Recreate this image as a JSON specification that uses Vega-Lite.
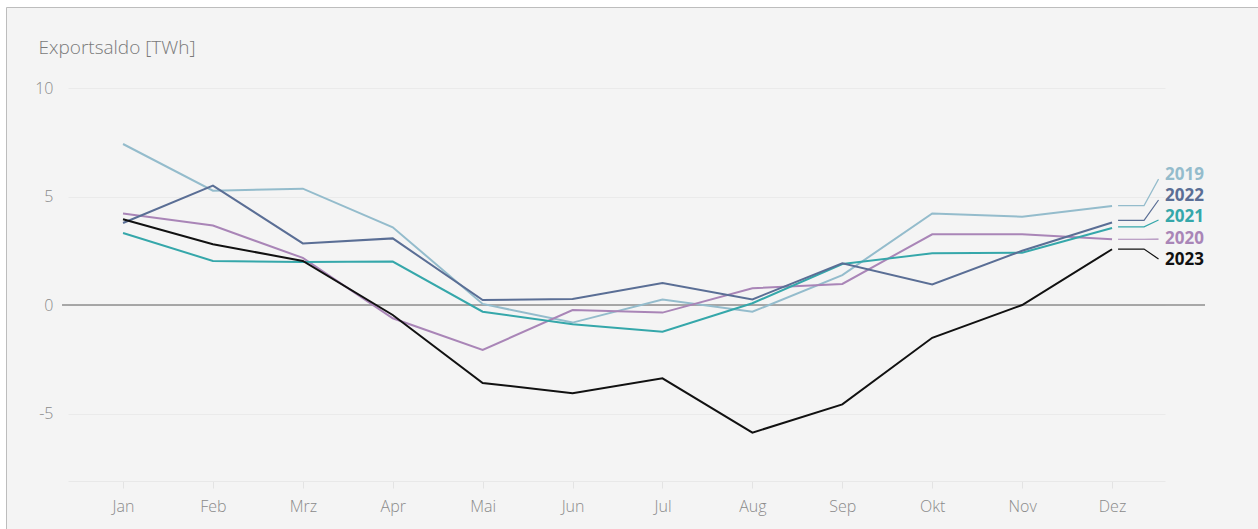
{
  "$schema": "https://vega.github.io/schema/vega-lite/v6.json",
  "width": 1252,
  "height": 522,
  "padding": {"left": 6, "top": 7, "right": 0, "bottom": 0},
  "autosize": {"type": "none"},
  "background": "white",
  "config": {
    "view": {"fill": "#f4f4f4", "stroke": "#bdbdbd"},
    "font": "Open Sans"
  },
  "datasets": {
    "series": [
      {"year": "2019", "m": 1, "v": 7.42}, {"year": "2019", "m": 2, "v": 5.27}, {"year": "2019", "m": 3, "v": 5.36}, {"year": "2019", "m": 4, "v": 3.58}, {"year": "2019", "m": 5, "v": 0.05}, {"year": "2019", "m": 6, "v": -0.81}, {"year": "2019", "m": 7, "v": 0.25}, {"year": "2019", "m": 8, "v": -0.31}, {"year": "2019", "m": 9, "v": 1.38}, {"year": "2019", "m": 10, "v": 4.22}, {"year": "2019", "m": 11, "v": 4.07}, {"year": "2019", "m": 12, "v": 4.56},
      {"year": "2020", "m": 1, "v": 4.22}, {"year": "2020", "m": 2, "v": 3.66}, {"year": "2020", "m": 3, "v": 2.17}, {"year": "2020", "m": 4, "v": -0.61}, {"year": "2020", "m": 5, "v": -2.07}, {"year": "2020", "m": 6, "v": -0.23}, {"year": "2020", "m": 7, "v": -0.35}, {"year": "2020", "m": 8, "v": 0.77}, {"year": "2020", "m": 9, "v": 0.97}, {"year": "2020", "m": 10, "v": 3.26}, {"year": "2020", "m": 11, "v": 3.26}, {"year": "2020", "m": 12, "v": 3.03},
      {"year": "2021", "m": 1, "v": 3.32}, {"year": "2021", "m": 2, "v": 2.03}, {"year": "2021", "m": 3, "v": 1.98}, {"year": "2021", "m": 4, "v": 2.0}, {"year": "2021", "m": 5, "v": -0.31}, {"year": "2021", "m": 6, "v": -0.89}, {"year": "2021", "m": 7, "v": -1.23}, {"year": "2021", "m": 8, "v": 0.08}, {"year": "2021", "m": 9, "v": 1.89}, {"year": "2021", "m": 10, "v": 2.38}, {"year": "2021", "m": 11, "v": 2.41}, {"year": "2021", "m": 12, "v": 3.55},
      {"year": "2022", "m": 1, "v": 3.78}, {"year": "2022", "m": 2, "v": 5.5}, {"year": "2022", "m": 3, "v": 2.84}, {"year": "2022", "m": 4, "v": 3.07}, {"year": "2022", "m": 5, "v": 0.23}, {"year": "2022", "m": 6, "v": 0.28}, {"year": "2022", "m": 7, "v": 1.01}, {"year": "2022", "m": 8, "v": 0.26}, {"year": "2022", "m": 9, "v": 1.92}, {"year": "2022", "m": 10, "v": 0.95}, {"year": "2022", "m": 11, "v": 2.5}, {"year": "2022", "m": 12, "v": 3.8},
      {"year": "2023", "m": 1, "v": 3.95}, {"year": "2023", "m": 2, "v": 2.8}, {"year": "2023", "m": 3, "v": 2.03}, {"year": "2023", "m": 4, "v": -0.46}, {"year": "2023", "m": 5, "v": -3.59}, {"year": "2023", "m": 6, "v": -4.07}, {"year": "2023", "m": 7, "v": -3.38}, {"year": "2023", "m": 8, "v": -5.88}, {"year": "2023", "m": 9, "v": -4.58}, {"year": "2023", "m": 10, "v": -1.51}, {"year": "2023", "m": 11, "v": 0.0}, {"year": "2023", "m": 12, "v": 2.57}
    ],
    "leaders": [
      {"year": "2019", "m": 12.067, "v": 4.58}, {"year": "2019", "m": 12.356, "v": 4.58}, {"year": "2019", "m": 12.517, "v": 5.8},
      {"year": "2022", "m": 12.067, "v": 3.9}, {"year": "2022", "m": 12.356, "v": 3.9}, {"year": "2022", "m": 12.517, "v": 4.84},
      {"year": "2021", "m": 12.067, "v": 3.6}, {"year": "2021", "m": 12.356, "v": 3.6}, {"year": "2021", "m": 12.517, "v": 3.92},
      {"year": "2020", "m": 12.067, "v": 3.03}, {"year": "2020", "m": 12.356, "v": 3.03}, {"year": "2020", "m": 12.517, "v": 3.04},
      {"year": "2023", "m": 12.067, "v": 2.58}, {"year": "2023", "m": 12.356, "v": 2.58}, {"year": "2023", "m": 12.517, "v": 2.12}
    ],
    "labels": [
      {"year": "2019", "m": 12.59, "v": 5.99},
      {"year": "2022", "m": 12.59, "v": 5.02},
      {"year": "2021", "m": 12.59, "v": 4.06},
      {"year": "2020", "m": 12.59, "v": 3.04},
      {"year": "2023", "m": 12.59, "v": 2.07}
    ]
  },
  "layer": [
    {
      "data": {"values": [{}]},
      "mark": {"type": "rule", "color": "#8e8e8e", "strokeWidth": 1.5},
      "encoding": {
        "x": {
          "datum": 0.3216, "type": "quantitative",
          "scale": {"domain": [0.388, 12.589], "range": [62, 1159], "nice": false, "zero": false},
          "axis": {
            "title": null,
            "values": [1, 2, 3, 4, 5, 6, 7, 8, 9, 10, 11, 12],
            "labelExpr": "['Jan','Feb','Mrz','Apr','Mai','Jun','Jul','Aug','Sep','Okt','Nov','Dez'][datum.value - 1]",
            "grid": false,
            "domainColor": "#e8e8e8",
            "tickColor": "#e3e3e3",
            "tickSize": 7,
            "labelPadding": 10,
            "labelFontSize": 16,
            "labelFontWeight": 300,
            "labelColor": "#8a8a8a",
            "offset": -48
          }
        },
        "x2": {"datum": 13.034},
        "y": {
          "datum": 0, "type": "quantitative",
          "scale": {"domain": [-8.1, 10], "range": [473.8, 81], "nice": false, "zero": false},
          "axis": {
            "values": [-5, 0, 5, 10],
            "labelExpr": "'' + datum.value",
            "grid": true,
            "gridColor": "#eaeaea",
            "domain": false,
            "ticks": false,
            "tickSize": 0,
            "labelPadding": 9,
            "labelFontSize": 16,
            "labelFontWeight": 300,
            "labelColor": "#8a8a8a",
            "offset": -56,
            "title": "Exportsaldo [TWh]",
            "titleAngle": 0,
            "titleAlign": "left",
            "titleBaseline": "middle",
            "titleX": -24,
            "titleY": 40,
            "titleFontSize": 19,
            "titleFontWeight": 300,
            "titleColor": "#7a7a7a"
          }
        }
      }
    },
    {
      "data": {"name": "series"},
      "mark": {"type": "line", "strokeWidth": 2},
      "encoding": {
        "x": {"field": "m", "type": "quantitative"},
        "y": {"field": "v", "type": "quantitative"},
        "color": {
          "field": "year", "type": "nominal",
          "scale": {"domain": ["2019", "2020", "2021", "2022", "2023"], "range": ["#94bccc", "#a985b7", "#35a7aa", "#5a6e95", "#111111"]},
          "legend": null
        }
      }
    },
    {
      "data": {"name": "leaders"},
      "mark": {"type": "line", "strokeWidth": 1.2},
      "encoding": {
        "x": {"field": "m", "type": "quantitative"},
        "y": {"field": "v", "type": "quantitative"},
        "color": {"field": "year", "type": "nominal", "legend": null}
      }
    },
    {
      "data": {"name": "labels"},
      "mark": {"type": "text", "align": "left", "baseline": "middle", "fontSize": 17, "fontWeight": "bold"},
      "encoding": {
        "x": {"field": "m", "type": "quantitative"},
        "y": {"field": "v", "type": "quantitative"},
        "text": {"field": "year"},
        "color": {"field": "year", "type": "nominal", "legend": null}
      }
    }
  ]
}
